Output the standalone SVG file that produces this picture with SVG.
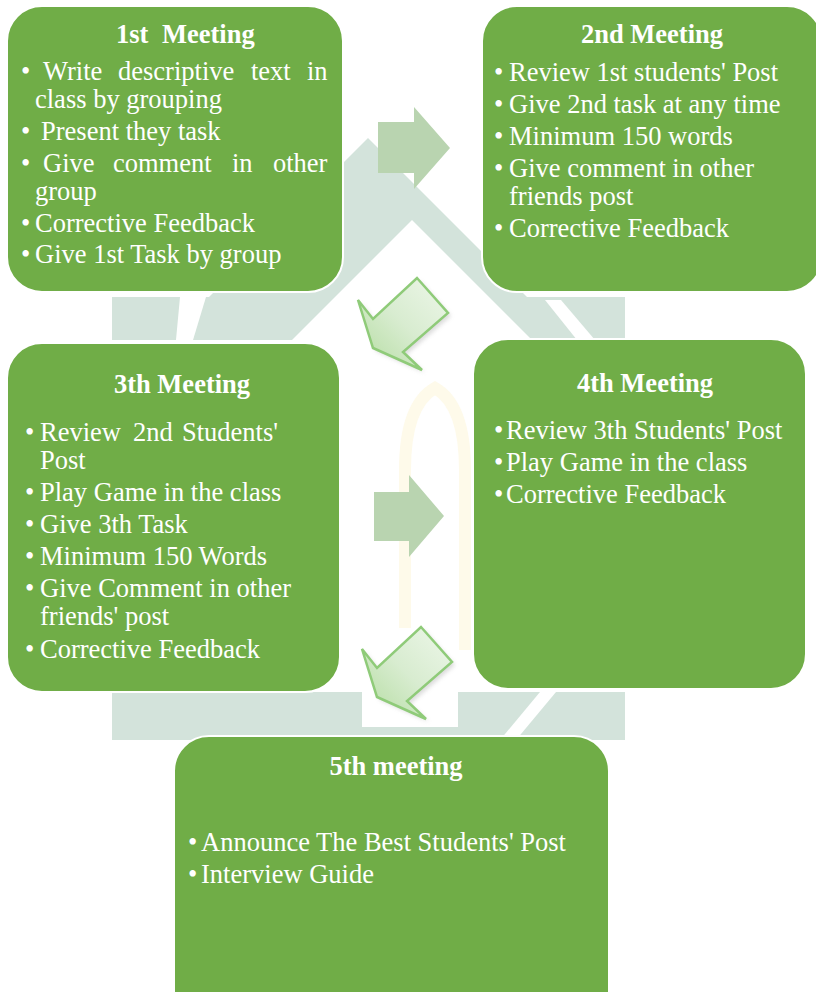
<svg xmlns="http://www.w3.org/2000/svg" width="816" height="992" viewBox="0 0 816 992">
  <defs>
    <style>
      .box { fill: #70ad47; stroke: #ffffff; stroke-width: 2; }
      .hd { font-family: "Liberation Serif", "Times New Roman", serif; font-size: 26.5px; font-weight: bold; fill: #ffffff; }
      .tx { font-family: "Liberation Serif", "Times New Roman", serif; font-size: 26.5px; fill: #ffffff; }
      .wm { fill: #d3e3db; }
      .flat { fill: #b9d4b0; }
      .bent { fill: url(#bentGrad); stroke: #8fcb79; stroke-width: 2.5; stroke-linejoin: miter; }
    </style>
    <linearGradient id="bentGrad" x1="1" y1="0" x2="0" y2="1">
      <stop offset="0" stop-color="#eef7ea"/>
      <stop offset="0.5" stop-color="#d8ecd0"/>
      <stop offset="1" stop-color="#b3dc9f"/>
    </linearGradient>
    <filter id="shadow" x="-20%" y="-20%" width="140%" height="140%">
      <feGaussianBlur stdDeviation="2"/>
    </filter>
    <polygon id="bentArrow" points="417,278 448,313 403,352 422,370 373,348 358,300 373,319"/>
  </defs>

  <rect width="816" height="992" fill="#ffffff"/>

  <g id="watermark">
    <polygon class="wm" points="368,138 527,297 209,297"/>
    <rect class="wm" x="112" y="297" width="513" height="43"/>
    <polygon fill="#ffffff" points="412,220 532,340 292,340"/>
    <polygon fill="#ffffff" points="180,297 206,297 193,340 176,340"/>
    <polygon fill="#ffffff" points="545,300 561,300 595,340 577,340"/>
    <rect class="wm" x="112" y="692" width="513" height="48"/>
    <polygon fill="#ffffff" points="540,692 556,692 516,740 500,740"/>
    <path d="M405 650 L405 470 Q405 405 435 388 Q465 405 465 470 L465 650" fill="none" stroke="#fefaea" stroke-width="12"/>
  </g>

  <g id="connectors">
    <g id="arrow-1-2">
      <polygon class="flat" points="378,122 414,122 414,107 450,148 414,189 414,173 378,173"/>
    </g>
    <g id="arrow-2-3">
      <rect x="357" y="282" width="96" height="96" fill="#ffffff"/>
      <use href="#bentArrow" transform="translate(3,3)" fill="#9a9a9a" opacity="0.35" filter="url(#shadow)"/>
      <use href="#bentArrow" class="bent"/>
    </g>
    <g id="arrow-3-4">
      <polygon class="flat" points="374,492 409,492 409,475 444,516 409,557 409,541 374,541"/>
    </g>
    <g id="arrow-4-5">
      <rect x="362" y="628" width="96" height="99" fill="#ffffff"/>
      <use href="#bentArrow" transform="translate(7,352)" fill="#9a9a9a" opacity="0.35" filter="url(#shadow)"/>
      <use href="#bentArrow" class="bent" transform="translate(4,349)"/>
    </g>
  </g>

  <g id="meeting1">
    <rect class="box" x="7" y="6" width="336" height="286" rx="35" ry="35"/>
    <text class="hd" y="43"><tspan x="116">1st</tspan><tspan x="162">Meeting</tspan></text>
    <text class="tx" y="80"><tspan x="21">•</tspan><tspan x="43">Write</tspan><tspan x="118">descriptive</tspan><tspan x="251">text</tspan><tspan x="307">in</tspan></text>
    <text class="tx" x="35" y="108">class by grouping</text>
    <text class="tx" y="140"><tspan x="21">•</tspan><tspan x="41">Present they task</tspan></text>
    <text class="tx" y="172"><tspan x="21">•</tspan><tspan x="43">Give</tspan><tspan x="113">comment</tspan><tspan x="232">in</tspan><tspan x="273">other</tspan></text>
    <text class="tx" x="35" y="200">group</text>
    <text class="tx" y="232"><tspan x="21">•</tspan><tspan x="35">Corrective Feedback</tspan></text>
    <text class="tx" y="263"><tspan x="21">•</tspan><tspan x="35">Give 1st Task by group</tspan></text>
  </g>

  <g id="meeting2">
    <rect class="box" x="482" y="6" width="340" height="286" rx="35" ry="35"/>
    <text class="hd" x="652" y="43" text-anchor="middle">2nd Meeting</text>
    <text class="tx" y="81"><tspan x="494">•</tspan><tspan x="509">Review 1st students' Post</tspan></text>
    <text class="tx" y="113"><tspan x="494">•</tspan><tspan x="509">Give 2nd task at any time</tspan></text>
    <text class="tx" y="145"><tspan x="494">•</tspan><tspan x="509">Minimum 150 words</tspan></text>
    <text class="tx" y="177"><tspan x="494">•</tspan><tspan x="509">Give comment in other</tspan></text>
    <text class="tx" x="509" y="205">friends post</text>
    <text class="tx" y="237"><tspan x="494">•</tspan><tspan x="509">Corrective Feedback</tspan></text>
  </g>

  <g id="meeting3">
    <rect class="box" x="7" y="343" width="333" height="349" rx="35" ry="35"/>
    <text class="hd" x="182" y="393" text-anchor="middle">3th Meeting</text>
    <text class="tx" y="441"><tspan x="25">•</tspan><tspan x="40">Review</tspan><tspan x="133">2nd</tspan><tspan x="182">Students'</tspan></text>
    <text class="tx" x="40" y="469">Post</text>
    <text class="tx" y="501"><tspan x="25">•</tspan><tspan x="40">Play Game in the class</tspan></text>
    <text class="tx" y="533"><tspan x="25">•</tspan><tspan x="40">Give 3th Task</tspan></text>
    <text class="tx" y="565"><tspan x="25">•</tspan><tspan x="40">Minimum 150 Words</tspan></text>
    <text class="tx" y="597"><tspan x="25">•</tspan><tspan x="40">Give Comment in other</tspan></text>
    <text class="tx" x="40" y="625">friends' post</text>
    <text class="tx" y="658"><tspan x="25">•</tspan><tspan x="40">Corrective Feedback</tspan></text>
  </g>

  <g id="meeting4">
    <rect class="box" x="473" y="339" width="333" height="350" rx="35" ry="35"/>
    <text class="hd" x="645" y="392" text-anchor="middle">4th Meeting</text>
    <text class="tx" y="439"><tspan x="494">•</tspan><tspan x="506">Review 3th Students' Post</tspan></text>
    <text class="tx" y="471"><tspan x="494">•</tspan><tspan x="506">Play Game in the class</tspan></text>
    <text class="tx" y="503"><tspan x="494">•</tspan><tspan x="506">Corrective Feedback</tspan></text>
  </g>

  <g id="meeting5">
    <rect class="box" x="174" y="736" width="435" height="290" rx="35" ry="35"/>
    <text class="hd" x="396" y="775" text-anchor="middle">5th meeting</text>
    <text class="tx" y="851"><tspan x="188">•</tspan><tspan x="201">Announce The Best Students' Post</tspan></text>
    <text class="tx" y="883"><tspan x="188">•</tspan><tspan x="201">Interview Guide</tspan></text>
  </g>
</svg>
